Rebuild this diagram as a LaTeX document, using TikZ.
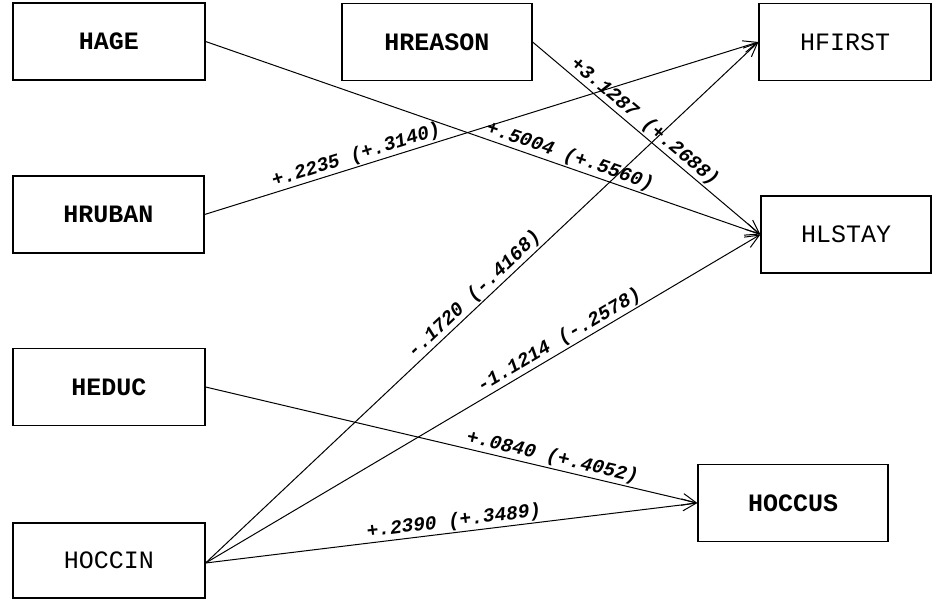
\documentclass[tikz,border=0pt]{standalone}
\usepackage{fontspec}
\setmonofont{Liberation Mono}
\usetikzlibrary{arrows.meta}
\begin{document}
\begin{tikzpicture}[x=1pt,y=-1pt,
  var/.style={draw, line width=1.2pt, inner sep=0pt, minimum height=77pt,
    font=\ttfamily\fontsize{25}{25}\selectfont},
  varb/.style={var, font=\ttfamily\bfseries\fontsize{25}{25}\selectfont},
  arr/.style={line width=1pt, -{Straight Barb[length=14pt,width=12pt,line width=1pt]}},
  lbl/.style={sloped, above, inner sep=1.5pt,
    font=\ttfamily\bfseries\itshape\fontsize{19.5}{19.5}\selectfont}]
\useasboundingbox (0,0) rectangle (933,599);
% boxes
\node[varb, minimum width=192pt] (hage)    at (109,41.5)  {HAGE};
\node[varb, minimum width=191pt] (hruban)  at (108.5,214.5) {HRUBAN};
\node[varb, minimum width=192pt] (heduc)   at (109,387)   {HEDUC};
\node[var,  minimum width=192pt, minimum height=75pt] (hoccin) at (109,560.5) {HOCCIN};
\node[varb, minimum width=190pt] (hreason) at (437,42)    {HREASON};
\node[var,  minimum width=172pt] (hfirst)  at (845,42)    {HFIRST};
\node[var,  minimum width=170pt] (hlstay)  at (846,234.5) {HLSTAY};
\node[varb, minimum width=190pt] (hoccus)  at (793,503)   {HOCCUS};
% connectors
\draw[arr] (hage.east) -- node[lbl, pos=0.65] {+.5004 (+.5560)} (hlstay.west);
\draw[arr] (hruban.east) -- node[lbl, pos=0.28] {+.2235 (+.3140)} (hfirst.west);
\draw[arr] (hreason.east) -- node[lbl, pos=0.46] {+3.1287 (+.2688)} (hlstay.west);
\draw[arr] ([yshift=-2.5pt]hoccin.east) -- node[lbl, pos=0.5] {-.1720 (-.4168)} (hfirst.west);
\draw[arr] ([yshift=-2.5pt]hoccin.east) -- node[lbl, pos=0.648] {-1.1214 (-.2578)} (hlstay.west);
\draw[arr] (heduc.east) -- node[lbl, pos=0.7] {+.0840 (+.4052)} (hoccus.west);
\draw[arr] ([yshift=-2.5pt]hoccin.east) -- node[lbl, pos=0.508] {+.2390 (+.3489)} (hoccus.west);
\end{tikzpicture}
\end{document}
